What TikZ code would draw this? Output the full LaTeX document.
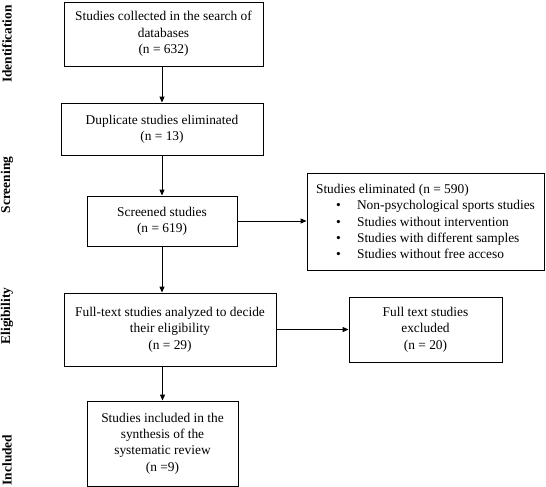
\documentclass[tikz,border=0pt]{standalone}
\usepackage{fontspec}
\setmainfont{Liberation Serif}
\usetikzlibrary{arrows.meta}

\tikzset{
  box/.style={draw, line width=0.9pt, align=center, inner sep=0pt,
    font=\fontsize{13.4}{16.4}\selectfont},
  stage/.style={rotate=90, font=\fontsize{13.4}{16.2}\selectfont\bfseries},
  flow/.style={-{Triangle[length=6pt,width=5pt]}, line width=1pt},
}

\begin{document}
\begin{tikzpicture}[x=1pt, y=-1pt]

    \useasboundingbox (0,0) rectangle (546,487);

    % Stage labels
    \node[stage] (identification) at (7,44) {Identification};
    \node[stage] (screening) at (7,185) {Screening};
    \node[stage] (eligibility) at (7,316) {Eligibility};
    \node[stage] (includedlabel) at (7,460) {Included};

    % Main column
    \node[box, minimum width=199pt, minimum height=64pt] (collected) at (163.5,34)
        {Studies collected in the search of\\databases\\(n = 632)};
    \node[box, minimum width=202pt, minimum height=52pt] (duplicate) at (162,129)
        {Duplicate studies eliminated\\(n = 13)};
    \node[box, minimum width=150pt, minimum height=50pt] (screened) at (162,221)
        {Screened studies\\(n = 619)};
    \node[box, minimum width=212pt, minimum height=73pt] (fulltext) at (170,329.5)
        {Full-text studies analyzed to decide\\their eligibility\\(n = 29)};
    \node[box, minimum width=151pt, minimum height=85pt] (included) at (162.5,443.5)
        {Studies included in the\\synthesis of the\\systematic review\\(n =9)};

    % Side boxes
    \node[box, align=left, minimum width=237pt, minimum height=97pt] (eliminated) at (425.5,221.5)
        {Studies eliminated (n = 590)\\
         \makebox[41pt][l]{\hspace{20pt}\textbullet}Non-psychological sports studies\\
         \makebox[41pt][l]{\hspace{20pt}\textbullet}Studies without intervention\\
         \makebox[41pt][l]{\hspace{20pt}\textbullet}Studies with different samples\\
         \makebox[41pt][l]{\hspace{20pt}\textbullet}Studies without free acceso};
    \node[box, minimum width=153pt, minimum height=65pt] (excluded) at (425.5,329.5)
        {Full text studies\\excluded\\(n = 20)};

    % Arrows
    \draw[flow] (collected.south -| duplicate.north) -- (duplicate.north);
    \draw[flow] (duplicate) -- (screened);
    \draw[flow] (screened.south) -- (screened.south |- fulltext.north);
    \draw[flow] (screened.east) -- (screened.east -| eliminated.west);
    \draw[flow] (fulltext.south -| included.north) -- (included.north);
    \draw[flow] (fulltext) -- (excluded);

\end{tikzpicture}
\end{document}
